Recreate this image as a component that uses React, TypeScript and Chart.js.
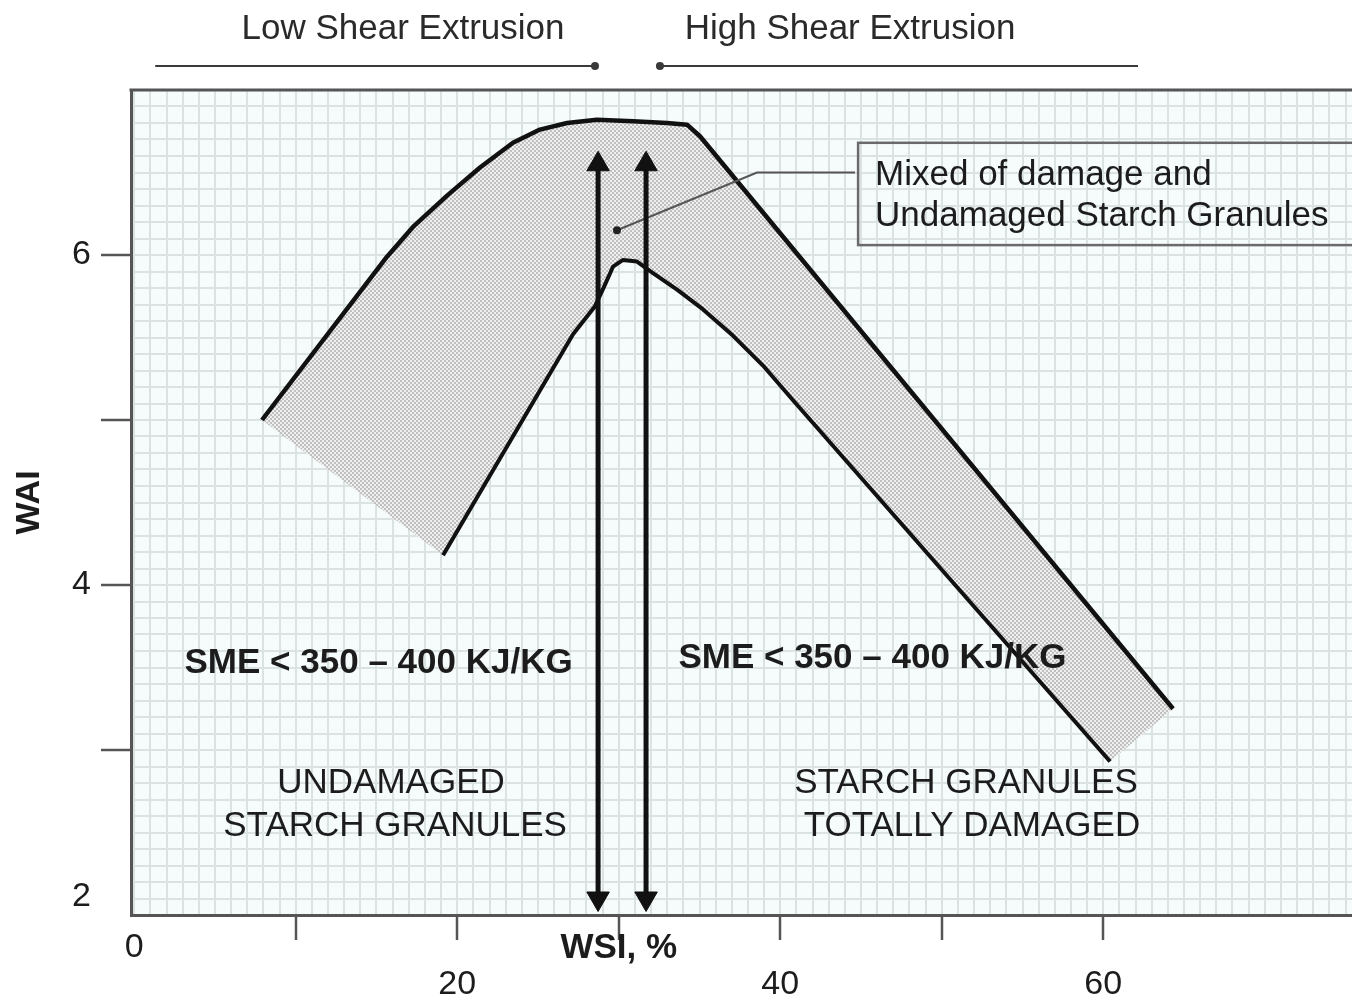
import { useEffect, useRef } from 'react';
import { Chart, registerables } from 'chart.js';

Chart.register(...registerables);

// ---- data (WSI %, WAI) ----
const UPPER_WSI = [7.91, 15.65, 17.26, 19.37, 21.41, 23.45, 25.12, 26.8, 28.65, 30.88, 32.99, 34.23, 35.03, 64.32];
const UPPER_WAI = [5.0, 5.99, 6.17, 6.36, 6.53, 6.68, 6.76, 6.8, 6.82, 6.81, 6.8, 6.79, 6.72, 3.25];
const LOWER_WSI = [19.12, 27.17, 28.53, 29.15, 29.65, 30.26, 31.13, 32.12, 33.61, 35.22, 37.08, 38.93, 40.79, 60.42];
const LOWER_WAI = [4.18, 5.52, 5.69, 5.82, 5.93, 5.97, 5.96, 5.89, 5.79, 5.67, 5.51, 5.33, 5.12, 2.93];
const ARROW_WSI = [28.72, 31.69];
const ARROW_WAI = [6.55, 2.1];
const LEADER_WSI = [44.63, 38.56, 29.89];
const LEADER_WAI = [6.5, 6.5, 6.15];

const X_TICK_VALUES = [0, 20, 40, 60];
const X_TICK_TEXT = ['0', '20', '40', '60'];
const X_MARK_VALUES = [10, 20, 30, 40, 50, 60];
const X_TITLE = 'WSI, %';
const X_TITLE_AT = 30;
const Y_TICK_VALUES = [6, 4, 2];
const Y_TICK_TEXT = ['6', '4', '2'];
const Y_MARK_VALUES = [3, 4, 5, 6];
const Y_TITLE = 'WAI';

const TOP_TEXT = ['Low Shear Extrusion', 'High Shear Extrusion'];
const BOX_TEXT = ['Mixed of damage and', 'Undamaged Starch Granules'];
const REGION_TEXT = ['SME < 350 – 400 KJ/KG', 'UNDAMAGED', 'STARCH GRANULES', 'TOTALLY DAMAGED'];

const FONT = '"Liberation Sans", Arial, Helvetica, sans-serif';
const TEXT_COLOR = '#1c1c1c';

const near = (a: number, b: number) => Math.abs(a - b) < 1e-6;

export default function App() {
  const ref = useRef<HTMLCanvasElement>(null);

  useEffect(() => {
    const canvas = ref.current;
    if (!canvas) return;

    const pc = document.createElement('canvas');
    pc.width = 4;
    pc.height = 4;
    const pctx = pc.getContext('2d')!;
    pctx.fillStyle = '#efefef';
    pctx.fillRect(0, 0, 4, 4);
    pctx.fillStyle = '#c0c0c0';
    pctx.fillRect(0, 0, 2, 2);
    pctx.fillRect(2, 2, 2, 2);
    const pattern = canvas.getContext('2d')!.createPattern(pc, 'repeat')!;

    const upper = UPPER_WSI.map((x, i) => ({ x, y: UPPER_WAI[i] }));
    const lower = LOWER_WSI.map((x, i) => ({ x, y: LOWER_WAI[i] }));
    const bandBase = [upper[0], ...lower, upper[upper.length - 1]];
    const leader = LEADER_WSI.map((x, i) => ({ x, y: LEADER_WAI[i] }));

    const annotations = {
      id: 'annotations',
      beforeDraw(chart: any) {
        const { ctx, chartArea: a } = chart;
        ctx.save();
        ctx.fillStyle = '#f6fbfb';
        ctx.fillRect(a.left, a.top, a.right - a.left, a.bottom - a.top);
        ctx.restore();
      },
      afterDatasetsDraw(chart: any) {
        const { ctx, chartArea: a } = chart;
        const xs = chart.scales.x;
        const ys = chart.scales.y;
        const X = (v: number) => xs.getPixelForValue(v);
        const Y = (v: number) => ys.getPixelForValue(v);
        ctx.save();
        // top frame line
        ctx.strokeStyle = '#555';
        ctx.lineWidth = 3;
        ctx.beginPath();
        ctx.moveTo(a.left - 1.5, a.top);
        ctx.lineTo(a.right, a.top);
        ctx.stroke();

        const text = (s: string, x: number, y: number, weight = 'normal', align: CanvasTextAlign = 'center', color = TEXT_COLOR) => {
          ctx.font = `${weight} 35px ${FONT}`;
          ctx.fillStyle = color;
          ctx.textAlign = align;
          ctx.textBaseline = 'middle';
          ctx.fillText(s, x, y);
        };

        // top extrusion labels
        const topY = a.top - 61;
        const lineY = a.top - 24;
        text(TOP_TEXT[0], X(16.64), topY, 'normal', 'center', '#2a2a2a');
        text(TOP_TEXT[1], X(44.32), topY, 'normal', 'center', '#2a2a2a');
        ctx.strokeStyle = '#3a3a3a';
        ctx.fillStyle = '#3a3a3a';
        ctx.lineWidth = 2;
        ctx.beginPath();
        ctx.moveTo(X(1.3), lineY);
        ctx.lineTo(X(28.53), lineY);
        ctx.moveTo(X(32.55), lineY);
        ctx.lineTo(X(62.15), lineY);
        ctx.stroke();
        ctx.beginPath();
        ctx.arc(X(28.53), lineY, 4, 0, Math.PI * 2);
        ctx.fill();
        ctx.beginPath();
        ctx.arc(X(32.55), lineY, 4, 0, Math.PI * 2);
        ctx.fill();

        // annotation box
        const bx = X(44.82);
        const by = Y(6.68);
        ctx.strokeStyle = '#6a6a6a';
        ctx.lineWidth = 2.5;
        ctx.strokeRect(bx, by, a.right + 20 - bx, Y(6.06) - by);
        text(BOX_TEXT[0], X(45.87), Y(6.485), 'normal', 'left');
        text(BOX_TEXT[1], X(45.87), Y(6.236), 'normal', 'left');

        // region labels
        text(REGION_TEXT[0], X(15.13), Y(3.527), 'bold');
        text(REGION_TEXT[0], X(45.71), Y(3.558), 'bold');
        text(REGION_TEXT[1], X(15.9), Y(2.8));
        text(REGION_TEXT[2], X(16.15), Y(2.539));
        text(REGION_TEXT[2], X(51.5), Y(2.8));
        text(REGION_TEXT[3], X(51.87), Y(2.539));
        ctx.restore();
      },
    };

    const markColor = (list: number[]) => (c: any) =>
      c.tick && list.some((m) => near(m, c.tick.value)) ? '#555' : 'rgba(0,0,0,0)';

    const zeroPad = (s: any) => {
      s.paddingLeft = 0;
      s.paddingRight = 0;
      s.paddingTop = 0;
      s.paddingBottom = 0;
    };

    const chart = new Chart(canvas, {
      type: 'scatter',
      data: {
        datasets: [
          {
            label: 'band base',
            data: bandBase,
            showLine: true,
            borderWidth: 0,
            borderColor: 'rgba(0,0,0,0)',
            pointRadius: 0,
            fill: false,
            order: 3,
          },
          {
            label: 'upper',
            data: upper,
            showLine: true,
            borderColor: '#111',
            borderWidth: 4.5,
            borderJoinStyle: 'round',
            pointRadius: 0,
            fill: { target: 0 },
            backgroundColor: pattern,
            order: 2,
          },
          {
            label: 'lower',
            data: lower,
            showLine: true,
            borderColor: '#111',
            borderWidth: 4,
            borderJoinStyle: 'round',
            pointRadius: 0,
            fill: false,
            order: 1,
          },
          ...ARROW_WSI.map((x) => ({
            label: 'arrow',
            data: ARROW_WAI.map((y) => ({ x, y })),
            showLine: true,
            borderColor: '#111',
            borderWidth: 5,
            pointStyle: 'triangle',
            pointRadius: 13,
            pointBackgroundColor: '#111',
            pointBorderColor: '#111',
            pointBorderWidth: 1,
            pointRotation: (c: any) => (c.dataIndex === 0 ? 0 : 180),
            fill: false,
            order: 0,
          })),
          {
            label: 'leader',
            data: leader,
            showLine: true,
            borderColor: '#555',
            borderWidth: 2,
            pointRadius: (c: any) => (c.dataIndex === 2 ? 3 : 0),
            pointBackgroundColor: '#222',
            pointBorderColor: '#222',
            fill: false,
            order: 0,
          },
        ] as any,
      },
      options: {
        responsive: false,
        animation: false,
        events: [],
        layout: { autoPadding: false, padding: { top: 90, left: 0, right: 0, bottom: 0 } },
        plugins: { legend: { display: false }, tooltip: { enabled: false } },
        scales: {
          x: {
            type: 'linear',
            min: -0.2,
            max: 75.4,
            afterFit: (s: any) => {
              s.height = 84;
              zeroPad(s);
            },
            border: { color: '#555', width: 3 },
            grid: {
              color: '#dbe2e2',
              lineWidth: 2,
              drawTicks: true,
              tickLength: 25,
              tickWidth: 2.5,
              tickColor: markColor(X_MARK_VALUES),
            },
            ticks: {
              stepSize: 1,
              autoSkip: false,
              includeBounds: false,
              maxRotation: 0,
              minRotation: 0,
              padding: -11,
              color: TEXT_COLOR,
              font: (c: any) => ({
                family: FONT,
                size: c.tick && c.tick.value === X_TITLE_AT ? 35 : 34,
                weight: c.tick && c.tick.value === X_TITLE_AT ? 'bold' : 'normal',
                lineHeight: 1.1,
              }),
              callback: (v: any) => {
                const val = Number(v);
                if (near(val, X_TITLE_AT)) return X_TITLE;
                const i = X_TICK_VALUES.findIndex((t) => near(t, val));
                if (i < 0) return '';
                return i === 0 ? X_TICK_TEXT[i] : ['', X_TICK_TEXT[i]];
              },
            },
          },
          y: {
            type: 'linear',
            min: 2,
            max: 7,
            afterFit: (s: any) => {
              s.width = 131;
              zeroPad(s);
            },
            border: { color: '#555', width: 3 },
            grid: {
              color: '#dbe2e2',
              lineWidth: 2,
              drawTicks: true,
              tickLength: 30,
              tickWidth: 2.5,
              tickColor: markColor(Y_MARK_VALUES),
            },
            title: {
              display: true,
              text: Y_TITLE,
              color: TEXT_COLOR,
              font: { family: FONT, size: 34, weight: 'bold', lineHeight: 1.1 },
              padding: { top: 11, bottom: 0 },
            },
            ticks: {
              stepSize: 0.1,
              autoSkip: false,
              padding: 10,
              color: TEXT_COLOR,
              font: { family: FONT, size: 34, lineHeight: 1.1 },
              callback: (v: any) => {
                const val = Number(v);
                const i = Y_TICK_VALUES.findIndex((t) => near(t, val));
                if (i < 0) return '';
                return i === Y_TICK_VALUES.length - 1 ? [Y_TICK_TEXT[i], ''] : Y_TICK_TEXT[i];
              },
            },
          },
        },
      } as any,
      plugins: [annotations],
    });

    return () => chart.destroy();
  }, []);

  return (
    <div style={{ position: 'fixed', left: 0, top: 0, width: 1352, height: 999, background: '#fff' }}>
      <canvas ref={ref} width={1352} height={999} style={{ display: 'block', width: 1352, height: 999 }} />
    </div>
  );
}
